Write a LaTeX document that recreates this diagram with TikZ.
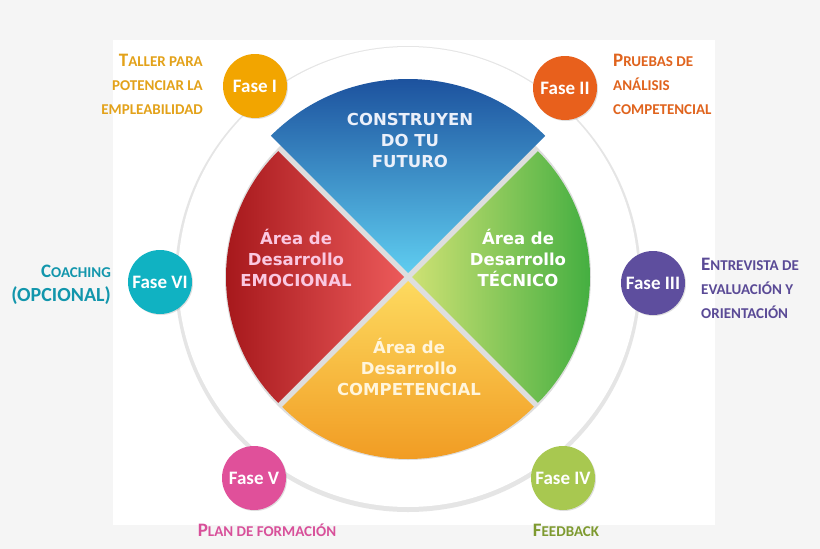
\documentclass[tikz,border=0pt]{standalone}
\usepackage{fontspec}
\setmainfont{Carlito}
\newfontfamily\secf{DejaVu Sans}
\usetikzlibrary{shadows}
\definecolor{cI}{HTML}{F2A500}\definecolor{tI}{HTML}{E3A21A}
\definecolor{cII}{HTML}{E8601C}\definecolor{tII}{HTML}{E0641E}
\definecolor{cIII}{HTML}{5E4E9E}\definecolor{tIII}{HTML}{5A4A96}
\definecolor{cIV}{HTML}{A8C850}\definecolor{tIV}{HTML}{7E9A30}
\definecolor{cV}{HTML}{E0509A}\definecolor{tV}{HTML}{D8509A}
\definecolor{cVI}{HTML}{10B2C2}\definecolor{tVI}{HTML}{1296AC}
\definecolor{bg}{HTML}{F5F5F5}
\newcommand\bigL[1]{{\fontsize{19}{24}\selectfont #1}}
\newcommand\smL[1]{{\fontsize{15}{24}\selectfont #1}}
\tikzset{
  fase/.style={circle,minimum size=64pt,inner sep=0pt,text=white,font=\bfseries\fontsize{19}{19}\selectfont,drop shadow={shadow xshift=1pt,shadow yshift=-1pt,opacity=.25}},
  lab/.style={font=\bfseries\fontsize{15}{24}\selectfont,align=#1,inner sep=0pt},
  sect/.style={font=\secf\bfseries\fontsize{16.5}{21}\selectfont,align=center,inner sep=0pt}
}
\begin{document}
\begin{tikzpicture}[x=1pt,y=-1pt]
\fill[bg] (0,0) rectangle (820,549);
\useasboundingbox (0,0) rectangle (820,549);
\fill[white] (113,40) rectangle (715,525);
\coordinate (O) at (408,277);
% outer ring
\fill[black!10] (408,279) circle (233);
\fill[white] (O) circle (230);
\fill[black!13] (O) circle (183);
% sectors
\shade[left color={rgb,255:red,160;green,18;blue,22}, right color={rgb,255:red,236;green,90;blue,90}]
  ([shift={(-4,0)}]O) -- ++(135:178) arc[start angle=135,end angle=225,radius=178] -- cycle;
\shade[left color={rgb,255:red,205;green,225;blue,115}, right color={rgb,255:red,55;green,170;blue,60}]
  ([shift={(4,0)}]O) -- ++(45:178) arc[start angle=45,end angle=-45,radius=178] -- cycle;
\shade[top color={rgb,255:red,253;green,218;blue,95}, bottom color={rgb,255:red,240;green,150;blue,30}]
  ([shift={(0,4)}]O) -- ++(45:178) arc[start angle=45,end angle=135,radius=178] -- cycle;
\shade[top color={rgb,255:red,22;green,70;blue,150}, bottom color={rgb,255:red,95;green,205;blue,240}]
  ([shift={(0,-4)}]O) -- ++(-45:194) arc[start angle=-45,end angle=-135,radius=194] -- cycle;
% sector texts
\node[sect,text={rgb,255:red,235;green,240;blue,250}] (t1) at (410,140) {CONSTRUYEN\\DO TU\\FUTURO};
\node[sect,text={rgb,255:red,250;green,200;blue,225}] (t2) at (296,258) {Área de\\Desarrollo\\EMOCIONAL};
\node[sect,text=white] (t3) at (518,258) {Área de\\Desarrollo\\TÉCNICO};
\node[sect,text={rgb,255:red,255;green,245;blue,220}] (t4) at (409,367) {Área de\\Desarrollo\\COMPETENCIAL};
% phases
\node[fase,fill=cI] (f1) at (255,86) {Fase I};
\node[fase,fill=cII] (f2) at (565,88) {Fase II};
\node[fase,fill=cIII] (f3) at (653,283) {Fase III};
\node[fase,fill=cIV] (f4) at (563,478) {Fase IV};
\node[fase,fill=cV] (f5) at (254,478) {Fase V};
\node[fase,fill=cVI] (f6) at (160,282) {Fase VI};
% labels
\node[lab=right,anchor=north east,text=tI] (l1) at (203,54) {\bigL{T}\smL{ALLER PARA}\\\smL{POTENCIAR LA}\\\smL{EMPLEABILIDAD}};
\node[lab=left,anchor=north west,text=tII] (l2) at (613,54) {\bigL{P}\smL{RUEBAS DE}\\\smL{ANÁLISIS}\\\smL{COMPETENCIAL}};
\node[lab=left,anchor=north west,text=tIII] (l3) at (701,258) {\bigL{E}\smL{NTREVISTA DE}\\\smL{EVALUACIÓN Y}\\\smL{ORIENTACIÓN}};
\node[lab=right,anchor=north east,text=tVI] (l6) at (111,265) {\bigL{C}\smL{OACHING}\\{\fontsize{20}{24}\selectfont (OPCIONAL)}};
\node[lab=center,text=tV] (l5) at (267,530) {\bigL{P}\smL{LAN DE FORMACIÓN}};
\node[lab=center,text=tIV] (l4) at (566,530) {\bigL{F}\smL{EEDBACK}};
\end{tikzpicture}
\end{document}
